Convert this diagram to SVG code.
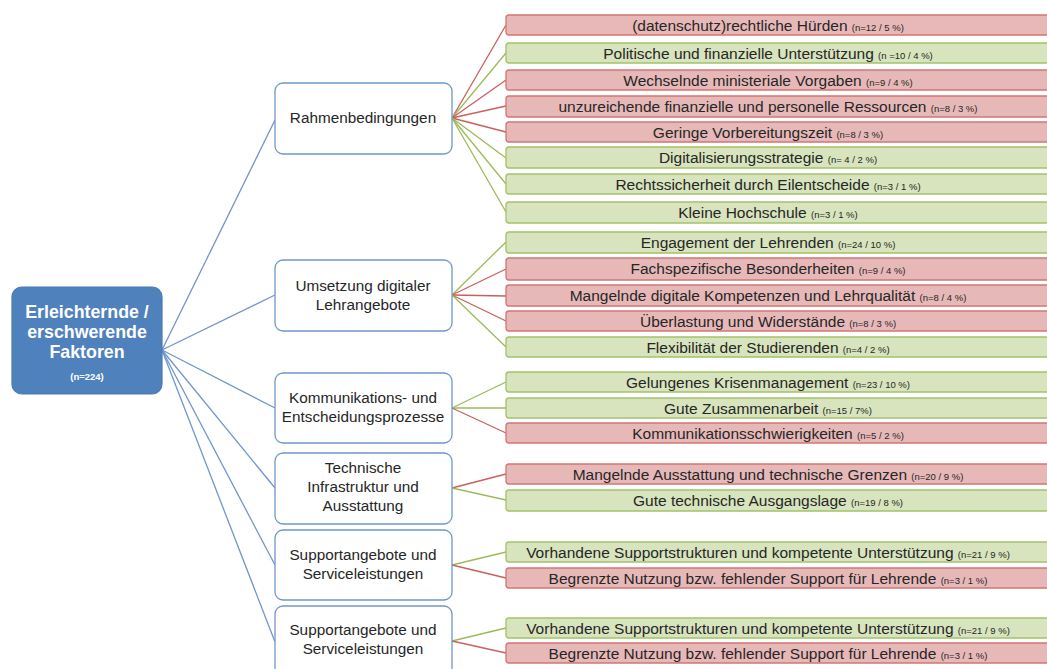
<svg xmlns="http://www.w3.org/2000/svg" width="1047" height="669" viewBox="0 0 1047 669">
<style>
.root{fill:#4f81bd;stroke:#4a7ab3;stroke-width:1.2}
.rt{font-family:"Liberation Sans",Arial,sans-serif;font-weight:bold;fill:#ffffff;text-anchor:middle}
.cat{fill:#ffffff;stroke:#6f97cc;stroke-width:1.3}
.ct{font-family:"Liberation Sans",Arial,sans-serif;font-size:15.3px;fill:#262626;text-anchor:middle}
.red{fill:#e6b9b8;stroke:#d27573;stroke-width:1.3}
.grn{fill:#d7e4bd;stroke:#a4c26a;stroke-width:1.3}
.lt{font-family:"Liberation Sans",Arial,sans-serif;font-size:15.5px;fill:#262626;text-anchor:middle}
.sm{font-size:9.5px}
.cb{stroke:#7096cb;stroke-width:1.3;fill:none}
.cr{stroke:#c9605d;stroke-width:1.3;fill:none}
.cg{stroke:#9bbb59;stroke-width:1.3;fill:none}
</style>
<g id="connectors">
<line class="cb" x1="162" y1="350" x2="275" y2="120"/>
<line class="cb" x1="162" y1="350" x2="275" y2="295"/>
<line class="cb" x1="162" y1="350" x2="275" y2="408"/>
<line class="cb" x1="162" y1="350" x2="275" y2="488"/>
<line class="cb" x1="162" y1="350" x2="275" y2="565"/>
<line class="cb" x1="162" y1="350" x2="275" y2="642"/>
<line class="cr" x1="452" y1="118" x2="506" y2="25"/>
<line class="cg" x1="452" y1="118" x2="506" y2="53"/>
<line class="cr" x1="452" y1="118" x2="506" y2="80"/>
<line class="cr" x1="452" y1="118" x2="506" y2="106"/>
<line class="cr" x1="452" y1="118" x2="506" y2="132"/>
<line class="cg" x1="452" y1="118" x2="506" y2="158"/>
<line class="cg" x1="452" y1="118" x2="506" y2="184"/>
<line class="cg" x1="452" y1="118" x2="506" y2="212"/>
<line class="cg" x1="452" y1="295" x2="506" y2="242"/>
<line class="cr" x1="452" y1="295" x2="506" y2="269"/>
<line class="cr" x1="452" y1="295" x2="506" y2="296"/>
<line class="cr" x1="452" y1="295" x2="506" y2="321"/>
<line class="cg" x1="452" y1="295" x2="506" y2="347"/>
<line class="cg" x1="452" y1="408" x2="506" y2="382"/>
<line class="cg" x1="452" y1="408" x2="506" y2="408"/>
<line class="cr" x1="452" y1="408" x2="506" y2="433"/>
<line class="cr" x1="452" y1="488" x2="506" y2="474"/>
<line class="cg" x1="452" y1="488" x2="506" y2="500"/>
<line class="cg" x1="452" y1="565" x2="506" y2="552"/>
<line class="cr" x1="452" y1="565" x2="506" y2="578"/>
<line class="cg" x1="452" y1="641" x2="506" y2="628"/>
<line class="cr" x1="452" y1="641" x2="506" y2="653"/>
</g>
<g id="root">
<rect class="root" x="12" y="287" width="150" height="107" rx="10"/>
<text class="rt" x="87" y="318" font-size="17.8">Erleichternde /</text>
<text class="rt" x="87" y="338" font-size="17.8">erschwerende</text>
<text class="rt" x="87" y="358" font-size="17.8">Faktoren</text>
<text class="rt" x="87" y="380" font-size="9.5">(n=224)</text>
</g>
<g id="cat1"><rect class="cat" x="275" y="83" width="177" height="71" rx="8"/><text class="ct" x="363" y="123">Rahmenbedingungen</text></g>
<g id="cat2"><rect class="cat" x="275" y="260" width="177" height="71" rx="8"/><text class="ct" x="363" y="291">Umsetzung digitaler</text><text class="ct" x="363" y="310">Lehrangebote</text></g>
<g id="cat3"><rect class="cat" x="275" y="373" width="177" height="70" rx="8"/><text class="ct" x="363" y="403">Kommunikations- und</text><text class="ct" x="363" y="422">Entscheidungsprozesse</text></g>
<g id="cat4"><rect class="cat" x="275" y="453" width="177" height="71" rx="8"/><text class="ct" x="363" y="473">Technische</text><text class="ct" x="363" y="492">Infrastruktur und</text><text class="ct" x="363" y="511">Ausstattung</text></g>
<g id="cat5"><rect class="cat" x="275" y="530" width="177" height="70" rx="8"/><text class="ct" x="363" y="560">Supportangebote und</text><text class="ct" x="363" y="579">Serviceleistungen</text></g>
<g id="cat6"><rect class="cat" x="275" y="606" width="177" height="75" rx="8"/><text class="ct" x="363" y="635">Supportangebote und</text><text class="ct" x="363" y="654">Serviceleistungen</text></g>
<g id="l1"><rect class="red" x="506" y="15" width="560" height="20" rx="3"/><text class="lt" x="768" y="30.5">(datenschutz)rechtliche Hürden <tspan class="sm">(n=12 / 5 %)</tspan></text></g>
<g id="l2"><rect class="grn" x="506" y="43" width="560" height="20" rx="3"/><text class="lt" x="768" y="58.5">Politische und finanzielle Unterstützung <tspan class="sm">(n =10  / 4 %)</tspan></text></g>
<g id="l3"><rect class="red" x="506" y="70" width="560" height="20" rx="3"/><text class="lt" x="768" y="85.5">Wechselnde ministeriale Vorgaben <tspan class="sm">(n=9 / 4 %)</tspan></text></g>
<g id="l4"><rect class="red" x="506" y="96" width="560" height="21" rx="3"/><text class="lt" x="768" y="111.5">unzureichende finanzielle und personelle Ressourcen <tspan class="sm">(n=8 / 3 %)</tspan></text></g>
<g id="l5"><rect class="red" x="506" y="122" width="560" height="20" rx="3"/><text class="lt" x="768" y="137.5">Geringe Vorbereitungszeit <tspan class="sm">(n=8 / 3 %)</tspan></text></g>
<g id="l6"><rect class="grn" x="506" y="147" width="560" height="21" rx="3"/><text class="lt" x="768" y="163">Digitalisierungsstrategie <tspan class="sm">(n= 4 / 2 %)</tspan></text></g>
<g id="l7"><rect class="grn" x="506" y="174" width="560" height="20" rx="3"/><text class="lt" x="768" y="189.5">Rechtssicherheit durch Eilentscheide <tspan class="sm">(n=3 / 1 %)</tspan></text></g>
<g id="l8"><rect class="grn" x="506" y="202" width="560" height="21" rx="3"/><text class="lt" x="768" y="217.5">Kleine Hochschule <tspan class="sm">(n=3 / 1 %)</tspan></text></g>
<g id="l9"><rect class="grn" x="506" y="232" width="560" height="21" rx="3"/><text class="lt" x="768" y="247.5">Engagement der Lehrenden <tspan class="sm">(n=24 / 10 %)</tspan></text></g>
<g id="l10"><rect class="red" x="506" y="258" width="560" height="22" rx="3"/><text class="lt" x="768" y="274">Fachspezifische Besonderheiten <tspan class="sm">(n=9 / 4 %)</tspan></text></g>
<g id="l11"><rect class="red" x="506" y="285" width="560" height="21" rx="3"/><text class="lt" x="768" y="301">Mangelnde digitale Kompetenzen und Lehrqualität <tspan class="sm">(n=8 / 4 %)</tspan></text></g>
<g id="l12"><rect class="red" x="506" y="311" width="560" height="20" rx="3"/><text class="lt" x="768" y="326.5">Überlastung und Widerstände <tspan class="sm">(n=8 / 3 %)</tspan></text></g>
<g id="l13"><rect class="grn" x="506" y="337" width="560" height="20" rx="3"/><text class="lt" x="768" y="353">Flexibilität der Studierenden <tspan class="sm">(n=4 / 2 %)</tspan></text></g>
<g id="l14"><rect class="grn" x="506" y="372" width="560" height="20" rx="3"/><text class="lt" x="768" y="387.5">Gelungenes Krisenmanagement <tspan class="sm">(n=23 / 10 %)</tspan></text></g>
<g id="l15"><rect class="grn" x="506" y="398" width="560" height="20" rx="3"/><text class="lt" x="768" y="413.5">Gute Zusammenarbeit <tspan class="sm">(n=15 / 7%)</tspan></text></g>
<g id="l16"><rect class="red" x="506" y="423" width="560" height="20" rx="3"/><text class="lt" x="768" y="438.5">Kommunikationsschwierigkeiten <tspan class="sm">(n=5 / 2 %)</tspan></text></g>
<g id="l17"><rect class="red" x="506" y="464" width="560" height="20" rx="3"/><text class="lt" x="768" y="479.5">Mangelnde Ausstattung und technische Grenzen <tspan class="sm">(n=20 / 9 %)</tspan></text></g>
<g id="l18"><rect class="grn" x="506" y="490" width="560" height="21" rx="3"/><text class="lt" x="768" y="505.5">Gute technische Ausgangslage <tspan class="sm">(n=19 / 8 %)</tspan></text></g>
<g id="l19"><rect class="grn" x="506" y="542" width="560" height="20" rx="3"/><text class="lt" x="768" y="557.5">Vorhandene Supportstrukturen und kompetente Unterstützung <tspan class="sm">(n=21 / 9 %)</tspan></text></g>
<g id="l20"><rect class="red" x="506" y="568" width="560" height="20" rx="3"/><text class="lt" x="768" y="583.5">Begrenzte Nutzung bzw. fehlender Support für Lehrende <tspan class="sm">(n=3 / 1 %)</tspan></text></g>
<g id="l21"><rect class="grn" x="506" y="618" width="560" height="20" rx="3"/><text class="lt" x="768" y="633.5">Vorhandene Supportstrukturen und kompetente Unterstützung <tspan class="sm">(n=21 / 9 %)</tspan></text></g>
<g id="l22"><rect class="red" x="506" y="643" width="560" height="20" rx="3"/><text class="lt" x="768" y="658.5">Begrenzte Nutzung bzw. fehlender Support für Lehrende <tspan class="sm">(n=3 / 1 %)</tspan></text></g>
</svg>
